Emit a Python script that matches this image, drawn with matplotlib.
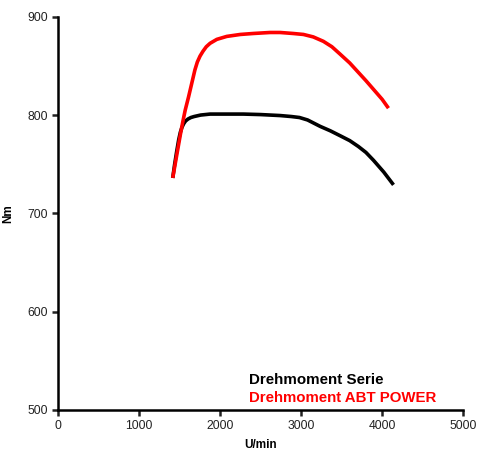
import matplotlib
matplotlib.use("Agg")
import matplotlib.pyplot as plt

rpm_serie = [1416, 1440, 1465, 1490, 1510, 1530, 1550, 1575, 1605, 1640, 1680, 1760,
             1877, 2100, 2288, 2500, 2741, 2880, 2980, 3080, 3235, 3360, 3481,
             3600, 3707, 3800, 3893, 4020, 4140]
nm_serie = [736, 750, 763, 775, 782.5, 787.5, 791, 794, 796, 797.5, 798.5, 800,
            801, 801, 801, 800.5, 799.5, 798.5, 797.5, 795, 788.5, 784, 779,
            774, 768, 762, 754, 742, 729]

rpm_abt = [1416, 1450, 1480, 1510, 1540, 1570, 1610, 1650, 1690, 1720, 1753, 1790,
           1830, 1877, 1960, 2082, 2250, 2412, 2617, 2741, 2900, 3029, 3150, 3275,
           3380, 3481, 3600, 3700, 3800, 3900, 4000, 4078]
nm_abt = [736, 752, 766, 780, 793, 805, 818, 832, 846, 854, 860, 865,
          869.5, 873, 877, 880, 882, 883, 884, 884, 883, 882, 879.5, 875,
          869.5, 862, 853, 844, 835, 825.5, 816, 807]

plt.rcParams['font.family'] = ['Liberation Sans', 'DejaVu Sans']

fig = plt.figure(figsize=(4.79, 4.53), dpi=100)
ax = fig.add_axes([0.121, 0.095, 0.846, 0.868])

ax.plot(rpm_serie, nm_serie, color='black', lw=2.6, solid_capstyle='butt',
        solid_joinstyle='round', label='Drehmoment Serie')
ax.plot(rpm_abt, nm_abt, color='#ff0000', lw=2.6, solid_capstyle='butt',
        solid_joinstyle='round', label='Drehmoment ABT POWER')

ax.set_xlim(0, 5000)
ax.set_ylim(500, 900)
ax.set_xticks(range(0, 5001, 1000))
ax.set_yticks(range(500, 901, 100))
for s in ['top', 'right']:
    ax.spines[s].set_visible(False)
for s in ['left', 'bottom']:
    ax.spines[s].set_linewidth(1.8)
ax.tick_params(direction='out', length=4, width=1.8, labelsize=8.7, colors='#222222')
ax.set_xlabel('U/min', fontsize=8.5, fontweight='bold', labelpad=5)
ax.set_ylabel('Nm', fontsize=8.5, fontweight='bold', labelpad=9)

ax.text(0.472, 0.075, 'Drehmoment Serie', transform=ax.transAxes, color='black',
        fontsize=10.9, fontweight='bold', va='center')
ax.text(0.472, 0.03, 'Drehmoment ABT POWER', transform=ax.transAxes, color='#ff0000',
        fontsize=10.8, fontweight='bold', va='center')

fig.savefig('out.png', dpi=100)
